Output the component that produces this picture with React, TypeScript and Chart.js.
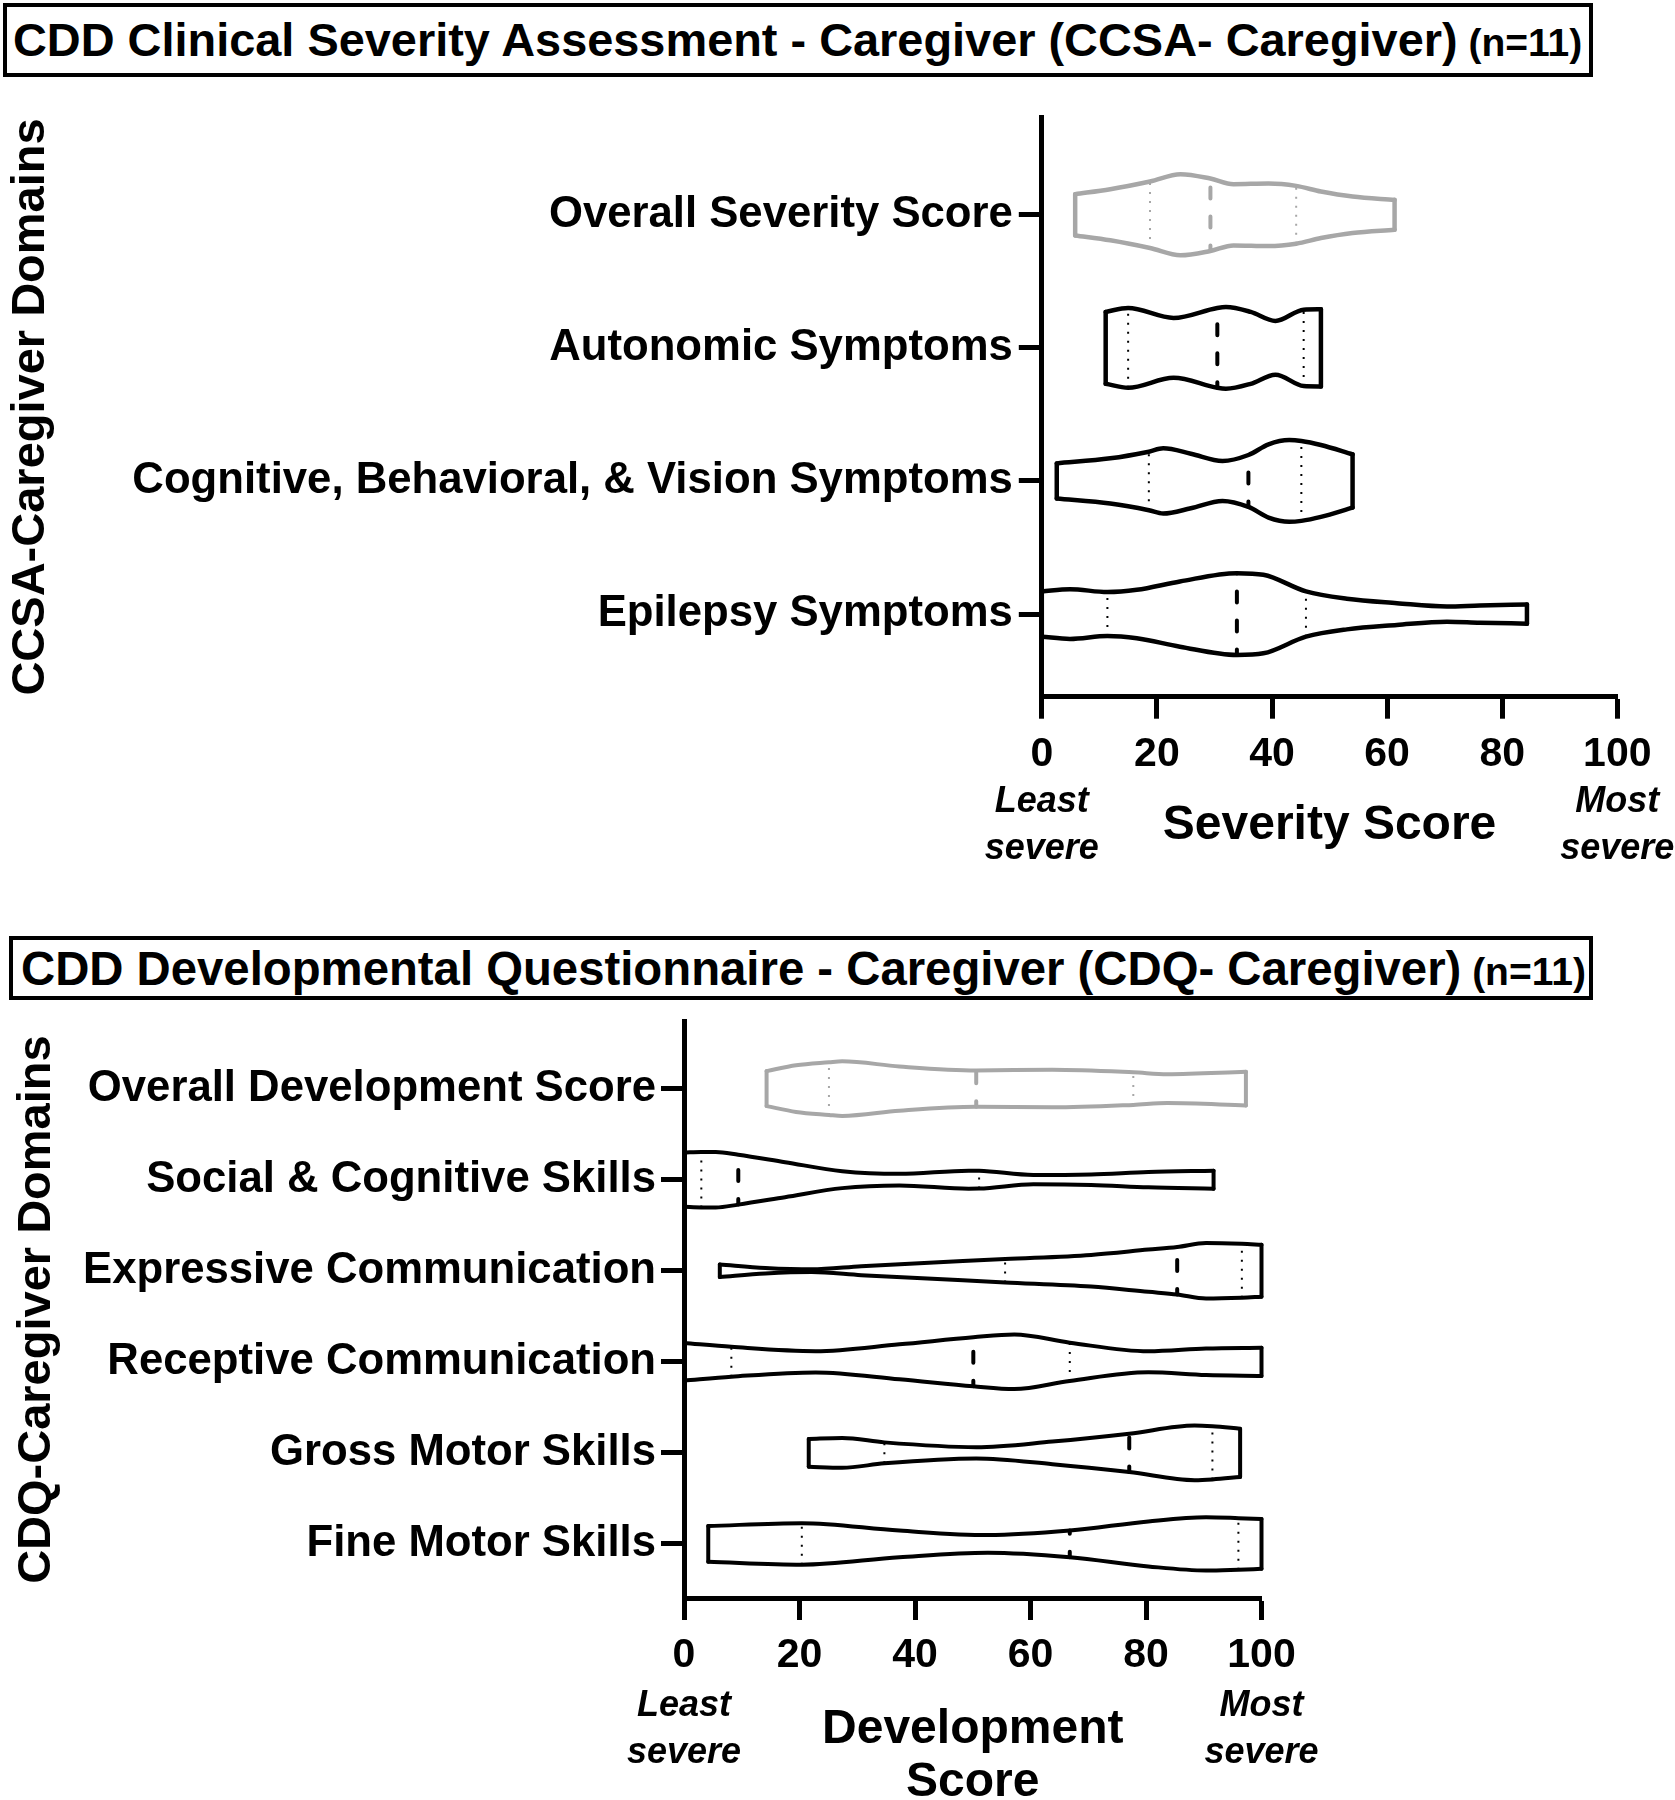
import React, { useEffect, useRef } from 'react';
import { Chart, registerables } from 'chart.js';

Chart.register(...registerables);

const FONT = "'Liberation Sans', Arial, Helvetica, sans-serif";
Chart.defaults.font.family = FONT;

// ---------- CCSA-Caregiver (top panel) ----------
const ccsaCategories = [
  'Overall Severity Score',
  'Autonomic Symptoms',
  'Cognitive, Behavioral, & Vision Symptoms',
  'Epilepsy Symptoms',
];
const ccsaQ1 = [18.8, 15.0, 18.6, 11.4];
const ccsaMedian = [29.3, 30.5, 35.9, 33.9];
const ccsaQ3 = [44.2, 45.5, 45.1, 45.9];

const overallSeverityX = [5.8, 11.9, 18.8, 24.1, 29.3, 33.3, 39.4, 44.2, 48.5, 54.0, 61.3];
const overallSeverityW = [0.155, 0.192, 0.25, 0.305, 0.272, 0.23, 0.235, 0.217, 0.175, 0.137, 0.112];
const autonomicX = [11.1, 15.0, 22.9, 30.5, 32.0, 36.3, 40.6, 45.5, 48.5];
const autonomicW = [0.27, 0.3, 0.225, 0.3, 0.307, 0.27, 0.202, 0.287, 0.29];
const cognitiveX = [2.6, 11.9, 18.6, 21.1, 25.9, 31.4, 35.9, 39.4, 43.0, 45.1, 48.5, 54.0];
const cognitiveW = [0.132, 0.17, 0.22, 0.245, 0.205, 0.15, 0.195, 0.275, 0.307, 0.3, 0.27, 0.2];
const epilepsyX = [0, 4.9, 11.4, 16.5, 24.0, 33.9, 38.5, 45.9, 53.0, 61.7, 70.4, 76.1, 84.3];
const epilepsyW = [0.17, 0.187, 0.165, 0.182, 0.245, 0.307, 0.295, 0.17, 0.115, 0.082, 0.057, 0.065, 0.072];

// ---------- CDQ-Caregiver (bottom panel) ----------
const cdqCategories = [
  'Overall Development Score',
  'Social & Cognitive Skills',
  'Expressive Communication',
  'Receptive Communication',
  'Gross Motor Skills',
  'Fine Motor Skills',
];
const cdqQ1 = [25.1, 3.0, 55.6, 8.2, 34.7, 20.4];
const cdqMedian = [50.6, 9.4, 85.4, 50.1, 77.1, 66.8];
const cdqQ3 = [77.8, 51.1, 96.6, 66.8, 91.5, 96.0];

const overallDevX = [14.3, 19.4, 25.1, 27.4, 37.3, 50.6, 63.8, 77.8, 83.7, 97.3];
const overallDevW = [0.192, 0.256, 0.289, 0.3, 0.243, 0.2, 0.206, 0.179, 0.159, 0.185];
const socialX = [0, 3.0, 5.5, 9.4, 17.5, 27.4, 37.3, 49.3, 51.1, 60.5, 70.5, 80.4, 91.7];
const socialW = [0.298, 0.305, 0.305, 0.274, 0.192, 0.093, 0.064, 0.099, 0.098, 0.051, 0.058, 0.084, 0.099];
const expressiveX = [6.2, 14.1, 22.1, 30.7, 55.6, 70.5, 80.4, 85.4, 90.4, 96.6, 100];
const expressiveW = [0.069, 0.031, 0.015, 0.049, 0.128, 0.174, 0.232, 0.261, 0.305, 0.296, 0.285];
const receptiveX = [0, 8.2, 22.8, 37.3, 50.1, 57.2, 66.8, 80.4, 90.4, 100];
const receptiveW = [0.206, 0.164, 0.117, 0.192, 0.269, 0.3, 0.21, 0.115, 0.146, 0.155];
const grossX = [21.6, 27.4, 34.7, 50.6, 63.8, 77.1, 88.4, 91.5, 96.3];
const grossW = [0.152, 0.164, 0.115, 0.062, 0.124, 0.21, 0.3, 0.292, 0.265];
const fineX = [4.2, 20.4, 37.3, 52.6, 66.8, 80.4, 90.4, 96.0, 100];
const fineW = [0.196, 0.228, 0.146, 0.097, 0.146, 0.247, 0.292, 0.283, 0.274];

const xTickValues = [0, 20, 40, 60, 80, 100];

// ---------- styles ----------
const GREY = '#a7a7a7';
const BLACK = '#000000';

type Violin = { xs: number[]; ws: number[] };

function buildDatasets(violins: Violin[], q1: number[], med: number[], q3: number[], outline: number) {
  const ds: any[] = [];
  violins.forEach((v, i) => {
    const color = i === 0 ? GREY : BLACK;
    const base = {
      borderColor: color,
      borderWidth: outline,
      pointRadius: 0,
      fill: false,
      clip: 10,
      borderCapStyle: 'round',
      borderJoinStyle: 'round',
    };
    ds.push({ ...base, cubicInterpolationMode: 'monotone', data: v.xs.map((x, k) => ({ x, y: i - v.ws[k] })) });
    ds.push({ ...base, cubicInterpolationMode: 'monotone', data: v.xs.map((x, k) => ({ x, y: i + v.ws[k] })) });
    const n = v.xs.length - 1;
    ds.push({ ...base, tension: 0, data: [{ x: v.xs[0], y: i - v.ws[0] }, { x: v.xs[0], y: i + v.ws[0] }] });
    ds.push({ ...base, tension: 0, data: [{ x: v.xs[n], y: i - v.ws[n] }, { x: v.xs[n], y: i + v.ws[n] }] });
    const wAt = (q: number) => v.ws[v.xs.indexOf(q)];
    [q1[i], q3[i]].forEach((q) => {
      const w = wAt(q);
      ds.push({
        borderColor: color, borderWidth: 2, pointRadius: 0, fill: false, tension: 0, clip: 10,
        borderDash: [2, 7], borderCapStyle: 'butt',
        data: [{ x: q, y: i + w }, { x: q, y: i - w }],
      });
    });
    const wm = wAt(med[i]);
    // median: dashed, drawn from the lower edge upward
    ds.push({
      borderColor: color, borderWidth: 4, pointRadius: 0, fill: false, tension: 0, clip: 10,
      borderDash: [11, 18], borderDashOffset: 5.5, borderCapStyle: 'round',
      data: [{ x: med[i], y: i + wm }, { x: med[i], y: i - wm }],
    });
  });
  return ds;
}

type PanelProps = {
  top: number;
  height: number;
  categories: string[];
  violins: Violin[];
  q1: number[];
  med: number[];
  q3: number[];
  yMin: number;
  yMax: number;
  padTop: number;
  yAxisWidth: number;
  padRight: number;
  xAxisHeight: number;
  yTitle: string;
  yTitlePad: number;
  xTitle: string | string[];
  xTitlePad: number;
  outline: number;
  labelPad: number;
  endOffsets: [number, number];
};

function ViolinPanel(p: PanelProps) {
  const ref = useRef<HTMLCanvasElement>(null);
  useEffect(() => {
    if (!ref.current) return;
    const endLabels = {
      id: 'endLabels',
      afterDraw(chart: any) {
        const { ctx, chartArea, scales } = chart;
        const x0 = scales.x.getPixelForValue(0);
        const x1 = scales.x.getPixelForValue(100);
        ctx.save();
        ctx.fillStyle = '#000';
        ctx.font = `italic bold 36px ${FONT}`;
        ctx.textAlign = 'center';
        ctx.textBaseline = 'middle';
        const y1 = chartArea.bottom + p.endOffsets[0];
        const y2 = chartArea.bottom + p.endOffsets[1];
        ctx.fillText('Least', x0, y1);
        ctx.fillText('severe', x0, y2);
        ctx.fillText('Most', x1, y1);
        ctx.fillText('severe', x1, y2);
        ctx.restore();
      },
    };
    const chart = new Chart(ref.current, {
      type: 'line',
      data: { datasets: buildDatasets(p.violins, p.q1, p.med, p.q3, p.outline) },
      options: {
        responsive: false,
        animation: false,
        events: [],
        layout: { padding: { top: p.padTop, right: p.padRight, left: 0, bottom: 0 } },
        plugins: { legend: { display: false }, tooltip: { enabled: false } },
        scales: {
          x: {
            type: 'linear',
            min: 0,
            max: 100,
            afterBuildTicks: (s: any) => { s.ticks = xTickValues.map((v) => ({ value: v })); },
            ticks: { font: { size: 41, weight: 'bold' }, color: '#000', padding: 11, maxRotation: 0, autoSkip: false },
            grid: { drawOnChartArea: false, drawTicks: true, tickLength: 22, tickWidth: 5, tickColor: '#000' },
            border: { display: true, width: 5, color: '#000' },
            title: {
              display: true,
              text: p.xTitle,
              color: '#000',
              font: { size: 48, weight: 'bold', lineHeight: 1.1 },
              padding: { top: 0, bottom: p.xTitlePad },
            },
            afterFit: (s: any) => { s.height = p.xAxisHeight; },
          },
          y: {
            type: 'linear',
            reverse: true,
            min: p.yMin,
            max: p.yMax,
            afterBuildTicks: (s: any) => { s.ticks = p.categories.map((_, i) => ({ value: i })); },
            ticks: {
              callback: (v: any) => p.categories[Math.round(Number(v))],
              font: { size: 43.7, weight: 'bold' },
              color: '#000',
              padding: p.labelPad,
              autoSkip: false,
            },
            grid: { drawOnChartArea: false, drawTicks: true, tickLength: 23, tickWidth: 5, tickColor: '#000' },
            border: { display: true, width: 5, color: '#000' },
            title: {
              display: true,
              text: p.yTitle,
              color: '#000',
              font: { size: 47, weight: 'bold', lineHeight: 1.2 },
              padding: { top: p.yTitlePad, bottom: 0 },
            },
            afterFit: (s: any) => { s.width = p.yAxisWidth; },
          },
        },
      } as any,
      plugins: [endLabels],
    });
    return () => chart.destroy();
  }, []);
  return (
    <canvas
      ref={ref}
      width={1675}
      height={p.height}
      style={{ position: 'absolute', left: 0, top: p.top, width: 1675, height: p.height }}
    />
  );
}

function TitleBox(props: { left: number; top: number; width: number; height: number; padLeft: number; fontSize: number; text: string }) {
  return (
    <div
      style={{
        position: 'absolute',
        left: props.left,
        top: props.top,
        width: props.width,
        height: props.height,
        border: '4px solid #000',
        boxSizing: 'border-box',
        display: 'flex',
        alignItems: 'center',
        paddingLeft: props.padLeft,
        fontFamily: FONT,
        fontWeight: 'bold',
        fontSize: props.fontSize,
        color: '#000',
        whiteSpace: 'nowrap',
        background: '#fff',
      }}
    >
      <span>
        {props.text}
        <span style={{ fontSize: 39 }}> (n=11)</span>
      </span>
    </div>
  );
}

export default function App() {
  const topViolins: Violin[] = [
    { xs: overallSeverityX, ws: overallSeverityW },
    { xs: autonomicX, ws: autonomicW },
    { xs: cognitiveX, ws: cognitiveW },
    { xs: epilepsyX, ws: epilepsyW },
  ];
  const bottomViolins: Violin[] = [
    { xs: overallDevX, ws: overallDevW },
    { xs: socialX, ws: socialW },
    { xs: expressiveX, ws: expressiveW },
    { xs: receptiveX, ws: receptiveW },
    { xs: grossX, ws: grossW },
    { xs: fineX, ws: fineW },
  ];
  return (
    <div style={{ position: 'absolute', left: 0, top: 0, width: 1675, height: 1800, background: '#fff', overflow: 'hidden' }}>
      <TitleBox left={3} top={3} width={1590} height={74} padLeft={6} fontSize={46.9} text="CDD Clinical Severity Assessment - Caregiver (CCSA- Caregiver)" />
      <ViolinPanel
        top={85}
        height={785}
        categories={ccsaCategories}
        violins={topViolins}
        q1={ccsaQ1}
        med={ccsaMedian}
        q3={ccsaQ3}
        yMin={-0.733}
        yMax={3.621}
        padTop={30}
        yAxisWidth={1041.8}
        padRight={57.7}
        xAxisHeight={173.3}
        yTitle="CCSA-Caregiver Domains"
        yTitlePad={3}
        xTitle="Severity Score"
        xTitlePad={18}
        outline={4.5}
        labelPad={6}
        endOffsets={[105.5, 152.5]}
      />
      <TitleBox left={9} top={936} width={1584} height={64} padLeft={8} fontSize={47.3} text="CDD Developmental Questionnaire - Caregiver (CDQ- Caregiver)" />
      <ViolinPanel
        top={990}
        height={810}
        categories={cdqCategories}
        violins={bottomViolins}
        q1={cdqQ1}
        med={cdqMedian}
        q3={cdqQ3}
        yMin={-0.74}
        yMax={5.594}
        padTop={30}
        yAxisWidth={684}
        padRight={413.5}
        xAxisHeight={202}
        yTitle="CDQ-Caregiver Domains"
        yTitlePad={9}
        xTitle={['Development', 'Score']}
        xTitlePad={-9}
        outline={4}
        labelPad={5}
        endOffsets={[108, 155]}
      />
    </div>
  );
}
